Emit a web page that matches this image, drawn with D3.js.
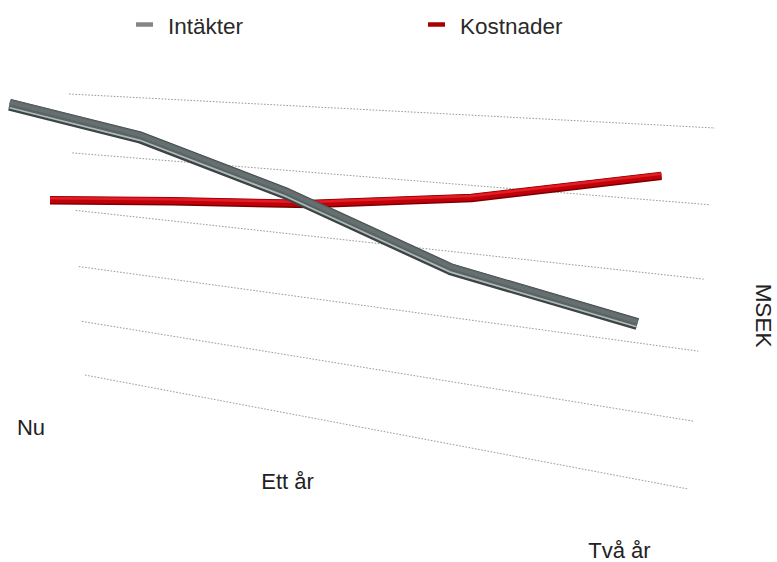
<!DOCTYPE html>
<html>
<head>
<meta charset="utf-8">
<script src="https://cdn.jsdelivr.net/npm/d3@7"></script>
<style>
  body { margin: 0; background: #fff; }
  svg { display: block; font-family: "Liberation Sans", Arial, Helvetica, sans-serif; }
</style>
</head>
<body>
<svg id="chart" width="777" height="562"></svg>
<script>
// ---- data ----
const periods = [0, 0.5, 1, 1.5, 2];          // years from now
const tickYears = [0, 1, 2];
const tickLabels = ["Nu", "Ett år", "Två år"];
const seriesNames = ["Intäkter", "Kostnader"];
const intakter = [48.2, 44.2, 37.2, 28.4, 23.8];
const kostnader = [31.8, 33.8, 35.6, 38.7, 43.8];
const gridValues = [0, 10, 20, 30, 40, 50];
const unitLabel = "MSEK";

// ---- scales (unit square of the back wall) ----
const x = d3.scaleLinear().domain([0, 2]).range([0, 1]);
const y = d3.scaleLinear().domain([0, 50]).range([0, 1]);

// perspective map of the unit square onto a screen quad
// corners: (0,0), (1,0), (1,1), (0,1)
function quadMap(p0, p1, p2, p3) {
  const [x0, y0] = p0, [x1, y1] = p1, [x2, y2] = p2, [x3, y3] = p3;
  const dx1 = x1 - x2, dy1 = y1 - y2, dx2 = x3 - x2, dy2 = y3 - y2;
  const dx3 = x0 - x1 + x2 - x3, dy3 = y0 - y1 + y2 - y3;
  const den = dx1 * dy2 - dx2 * dy1;
  const g = (dx3 * dy2 - dx2 * dy3) / den;
  const h = (dx1 * dy3 - dx3 * dy1) / den;
  const a = x1 - x0 + g * x1, b = x3 - x0 + h * x3, c = x0;
  const d = y1 - y0 + g * y1, e = y3 - y0 + h * y3, f = y0;
  const fn = (u, v) => {
    const w = g * u + h * v + 1;
    return [(a * u + b * v + c) / w, (d * u + e * v + f) / w];
  };
  fn.weight = (u, v) => g * u + h * v + 1;
  return fn;
}

const wall = quadMap([85, 375], [688, 489], [715, 128], [69, 94]);

// series ribbons stand in front of the wall: shifted left in screen space
const seriesDepth = [
  { dx0: -60, dx1: -63 },
  { dx0: -25, dx1: -50 }
];
function project(t, v, depth) {
  const [sx, sy] = wall(t, v);
  return [sx + depth.dx0 + (depth.dx1 - depth.dx0) * t, sy];
}

// front edge of the floor, where the period labels sit
const floorFront = { p0: [31, 435], p1: [619.5, 558] };
function frontEdge(t) {
  const w1 = wall.weight(1, 0);
  const k = (t * w1) / ((1 - t) + t * w1);
  return [
    floorFront.p0[0] + k * (floorFront.p1[0] - floorFront.p0[0]),
    floorFront.p0[1] + k * (floorFront.p1[1] - floorFront.p0[1])
  ];
}

const svg = d3.select("#chart");

// ---- dotted gridlines on the back wall ----
const gridG = svg.append("g");
const gridLine = d3.line();
gridValues.forEach(val => {
  const pts = d3.range(0, 1.0001, 0.05).map(t => wall(t, y(val)));
  gridG.append("path")
    .attr("d", gridLine(pts))
    .attr("fill", "none")
    .attr("stroke", "#9a9a9a")
    .attr("stroke-width", 1)
    .attr("stroke-dasharray", "1.6,1.6");
});

// ---- ribbons ----
const lineGen = d3.line();
const seriesData = [intakter, kostnader];
const ribbonLayers = [
  [ // Intäkter: grey tube
    { dy: 0, w: 12, color: "#3c4444" },
    { dy: -1, w: 9, color: "#5a6363" },
    { dy: -2.5, w: 4, color: "#677070" },
    { dy: 3, w: 1.7, color: "#b0b9b9" }
  ],
  [ // Kostnader: red tube
    { dy: 0, w: 8.5, color: "#7a0000" },
    { dy: -0.5, w: 6.5, color: "#c2000a" },
    { dy: -2, w: 2.5, color: "#e41c24" }
  ]
];

const ribbonG = svg.append("g");
// draw the rear series first so the front one overlaps it
[1, 0].forEach(i => {
  const pts = periods.map((p, j) => project(x(p), y(seriesData[i][j]), seriesDepth[i]));
  const d = lineGen(pts);
  const g = ribbonG.append("g");
  ribbonLayers[i].forEach(l => {
    g.append("path")
      .attr("d", d)
      .attr("transform", `translate(0,${l.dy})`)
      .attr("fill", "none")
      .attr("stroke", l.color)
      .attr("stroke-width", l.w)
      .attr("stroke-linejoin", "round")
      .attr("stroke-linecap", "butt");
  });
});

// ---- period labels ----
const labelG = svg.append("g");
tickYears.forEach((yr, i) => {
  const [lx, ly] = frontEdge(x(yr));
  labelG.append("text")
    .attr("x", lx)
    .attr("y", ly)
    .attr("text-anchor", "middle")
    .attr("font-size", 22)
    .attr("fill", "#222")
    .text(tickLabels[i]);
});

// ---- unit label ----
svg.append("text")
  .attr("transform", "translate(756,315.5) rotate(90)")
  .attr("text-anchor", "middle")
  .attr("font-size", 22.5)
  .attr("fill", "#222")
  .text(unitLabel);

// ---- legend ----
const legendItems = [
  { x: 136, color: "#858585" },
  { x: 428, color: "#a80000" }
];
const legendG = svg.append("g");
legendItems.forEach((item, i) => {
  legendG.append("line")
    .attr("x1", item.x).attr("x2", item.x + 17)
    .attr("y1", 24.5).attr("y2", 24.5)
    .attr("stroke", item.color)
    .attr("stroke-width", 4.5);
  legendG.append("text")
    .attr("x", item.x + 32)
    .attr("y", 33.5)
    .attr("font-size", 22.5)
    .attr("fill", "#2a2a2a")
    .text(seriesNames[i]);
});
</script>
</body>
</html>
